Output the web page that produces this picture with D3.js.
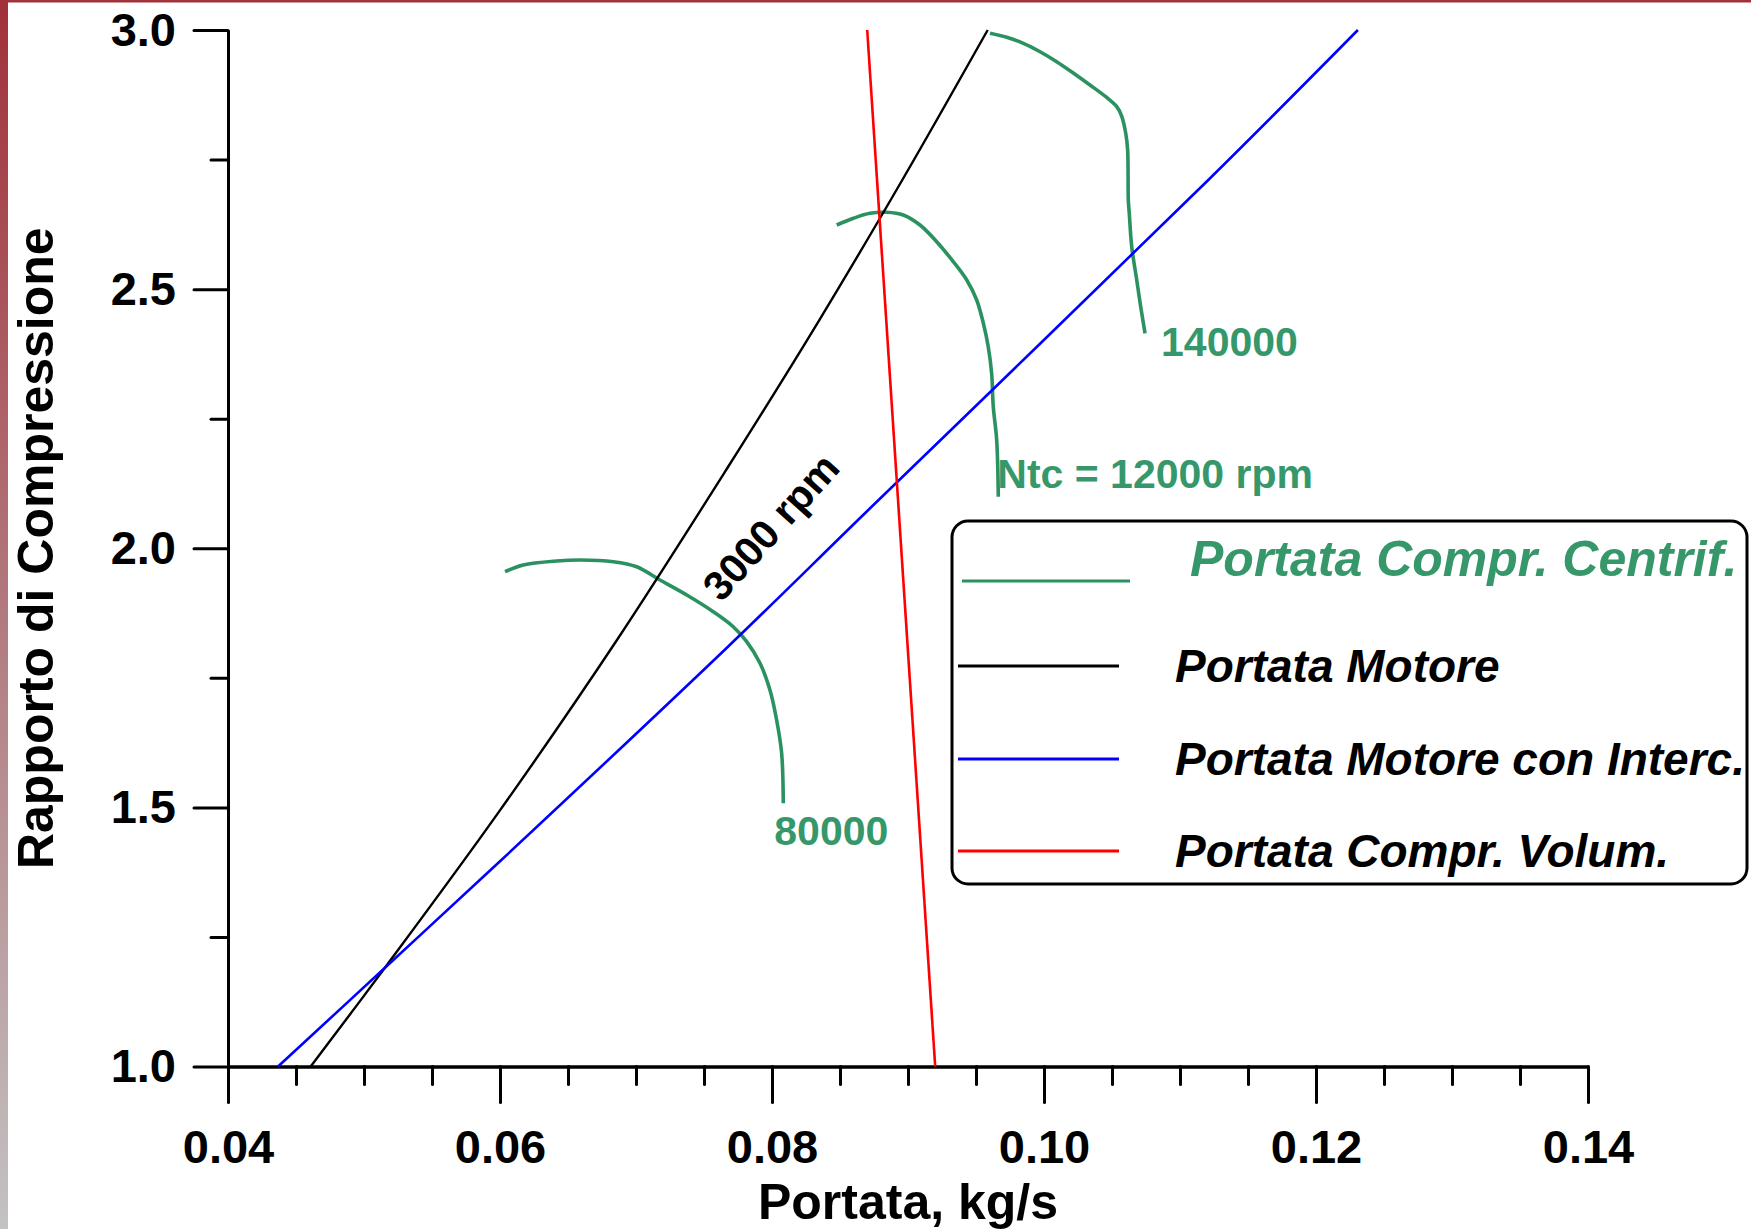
<!DOCTYPE html>
<html>
<head>
<meta charset="utf-8">
<script src="https://cdn.jsdelivr.net/npm/d3@7/dist/d3.min.js"></script>
<style>
  html, body { margin: 0; padding: 0; background: #ffffff; }
  svg { display: block; }
  text { font-family: "Liberation Sans", Arial, sans-serif; font-weight: bold; }
</style>
</head>
<body>
<script>
// Compressor speed lines: mass flow (kg/s) vs pressure ratio
const speed80000 = [
  [0.06037, 1.9548], [0.06171, 1.9677], [0.06417, 1.9754], [0.06588, 1.9773],
  [0.06833, 1.9741], [0.07005, 1.9644], [0.07176, 1.9387], [0.07373, 1.9098],
  [0.07568, 1.8776], [0.07715, 1.8486], [0.07814, 1.8197], [0.07912, 1.7780],
  [0.07985, 1.7265], [0.08034, 1.6686], [0.08071, 1.6043], [0.08083, 1.5079]
];
const speed120000 = [
  [0.08476, 2.6237], [0.08598, 2.6367], [0.08721, 2.6463], [0.08843, 2.6482],
  [0.08965, 2.6430], [0.09088, 2.6237], [0.09211, 2.5915], [0.09333, 2.5529],
  [0.09432, 2.5176], [0.09505, 2.4790], [0.09554, 2.4341], [0.09590, 2.3889],
  [0.09615, 2.3376], [0.09627, 2.2732], [0.09652, 2.2089], [0.09664, 2.0995]
];
const speed140000 = [
  [0.09603, 2.9936], [0.09726, 2.9859], [0.09848, 2.9743], [0.09971, 2.9581],
  [0.10093, 2.9388], [0.10215, 2.9170], [0.10338, 2.8939], [0.10461, 2.8698],
  [0.10535, 2.8520], [0.10571, 2.8340], [0.10601, 2.8007], [0.10615, 2.7685],
  [0.10620, 2.6720], [0.10627, 2.6463], [0.10645, 2.5819], [0.10682, 2.5176],
  [0.10711, 2.4661], [0.10743, 2.4147]
];
const speedLabels = ["80000", "Ntc = 12000 rpm", "140000"];

// Engine demand at 3000 rpm, without and with intercooler, and the volumetric compressor line
const engineFlow = [
  [0.04608, 1.0], [0.05169, 1.1959], [0.05993, 1.4917], [0.06860, 1.8230],
  [0.07681, 2.1587], [0.08348, 2.4404], [0.08958, 2.7106], [0.09586, 3.0]
];
const engineFlowIntercooled = [
  [0.04368, 1.0], [0.05176, 1.1959], [0.06010, 1.3985], [0.07676, 1.8100],
  [0.08708, 2.0738], [0.11208, 2.7106], [0.12308, 3.0]
];
const volumetricFlow = [[0.0870, 3.0], [0.0920, 1.0]];
const engineSpeedLabel = "3000 rpm";
const engineLabelAt = [0.08069, 2.0229];

const legendLabels = [
  "Portata Compr. Centrif.",
  "Portata Motore",
  "Portata Motore con Interc.",
  "Portata Compr. Volum."
];

// Axes
const xDomain = [0.04, 0.14];
const yDomain = [1.0, 3.0];
const xMajorTicks = [0.04, 0.06, 0.08, 0.10, 0.12, 0.14];
const xTickLabels = ["0.04", "0.06", "0.08", "0.10", "0.12", "0.14"];
const xMinorTicks = [0.045, 0.05, 0.055, 0.065, 0.07, 0.075, 0.085, 0.09, 0.095,
                     0.105, 0.11, 0.115, 0.125, 0.13, 0.135];
const yMajorTicks = [1.0, 1.5, 2.0, 2.5, 3.0];
const yTickLabels = ["1.0", "1.5", "2.0", "2.5", "3.0"];
const yMinorTicks = [1.25, 1.75, 2.25, 2.75];
const xTitle = "Portata, kg/s";
const yTitle = "Rapporto di Compressione";

const W = 1751, H = 1229;
const GREEN = "#36986a";
const CURVE_GREEN = "#2a9260";

const svg = d3.select("body").append("svg").attr("width", W).attr("height", H);

// Frame accents
const defs = svg.append("defs");
const grad = defs.append("linearGradient").attr("id", "edge")
  .attr("x1", 0).attr("y1", 0).attr("x2", 0).attr("y2", 1);
grad.append("stop").attr("offset", "0%").attr("stop-color", "#a1313a");
grad.append("stop").attr("offset", "100%").attr("stop-color", "#c3c2c2");
svg.append("rect").attr("x", 0).attr("y", 0).attr("width", W).attr("height", H).attr("fill", "#fff");
svg.append("rect").attr("x", 0).attr("y", 0).attr("width", 8).attr("height", H).attr("fill", "url(#edge)");
svg.append("rect").attr("x", 0).attr("y", 0).attr("width", W).attr("height", 2.5).attr("fill", "#a1313a");

const x = d3.scaleLinear().domain(xDomain).range([228, 1588]);
const y = d3.scaleLinear().domain(yDomain).range([1066.5, 30]);

const tickFont = 47;

function styleAxis(g) {
  g.selectAll("path.domain").attr("stroke", "#000").attr("stroke-width", 3);
  g.selectAll(".tick line").attr("stroke", "#000").attr("stroke-width", 3).attr("stroke-linecap", "round");
  g.selectAll(".tick text").attr("fill", "#000").attr("font-size", tickFont)
    .attr("font-family", "'Liberation Sans', Arial, sans-serif").attr("font-weight", "bold");
}

// X axis
svg.append("g").attr("transform", `translate(0,${y(1.0)})`)
  .call(d3.axisBottom(x).tickValues(xMinorTicks).tickSize(18).tickSizeOuter(0).tickFormat(""))
  .call(styleAxis);
svg.append("g").attr("transform", `translate(0,${y(1.0)})`)
  .call(d3.axisBottom(x).tickValues(xMajorTicks).tickSize(36).tickSizeOuter(0).tickPadding(27)
    .tickFormat((d, i) => xTickLabels[i]))
  .call(styleAxis);

// Y axis
svg.append("g").attr("transform", `translate(${x(0.04)},0)`)
  .call(d3.axisLeft(y).tickValues(yMinorTicks).tickSize(17).tickSizeOuter(0).tickFormat(""))
  .call(styleAxis);
svg.append("g").attr("transform", `translate(${x(0.04)},0)`)
  .call(d3.axisLeft(y).tickValues(yMajorTicks).tickSize(34).tickSizeOuter(0).tickPadding(18)
    .tickFormat((d, i) => yTickLabels[i]))
  .call(styleAxis);

// Axis titles
svg.append("text").attr("x", (x(0.04) + x(0.14)) / 2).attr("y", 1219)
  .attr("text-anchor", "middle").attr("font-size", 50).attr("fill", "#000").text(xTitle);
svg.append("text")
  .attr("transform", `translate(53,${(y(1) + y(3)) / 2}) rotate(-90)`)
  .attr("text-anchor", "middle").attr("font-size", 50).attr("fill", "#000").text(yTitle);

const line = d3.line().x(d => x(d[0])).y(d => y(d[1]));
const smooth = d3.line().x(d => x(d[0])).y(d => y(d[1])).curve(d3.curveCatmullRom.alpha(0.5));

// Compressor speed lines
const speedCurves = [speed80000, speed120000, speed140000];
svg.append("g").selectAll("path").data(speedCurves).join("path")
  .attr("d", smooth).attr("fill", "none").attr("stroke", CURVE_GREEN)
  .attr("stroke-width", 3.6).attr("stroke-linejoin", "round");

// Speed labels placed next to the end of each curve
const labelOffsets = [[-9, 42], [-1, -9], [16, 23]];
svg.append("g").selectAll("text").data(speedCurves).join("text")
  .attr("x", (d, i) => x(d[d.length - 1][0]) + labelOffsets[i][0])
  .attr("y", (d, i) => y(d[d.length - 1][1]) + labelOffsets[i][1])
  .attr("font-size", 41).attr("fill", GREEN)
  .text((d, i) => speedLabels[i]);

// Engine and volumetric lines
svg.append("path").datum(engineFlow).attr("d", smooth).attr("fill", "none")
  .attr("stroke", "#000").attr("stroke-width", 2.4);
svg.append("path").datum(engineFlowIntercooled).attr("d", smooth).attr("fill", "none")
  .attr("stroke", "#0000ff").attr("stroke-width", 2.6);
svg.append("path").datum(volumetricFlow).attr("d", line).attr("fill", "none")
  .attr("stroke", "#ff0000").attr("stroke-width", 2.6);

// Engine speed label along the black line
svg.append("text")
  .attr("transform", `translate(${x(engineLabelAt[0])},${y(engineLabelAt[1])}) rotate(-48)`)
  .attr("text-anchor", "middle").attr("font-size", 41).attr("fill", "#000")
  .text(engineSpeedLabel);

// Legend
const legend = svg.append("g");
legend.append("rect").attr("x", 952).attr("y", 521).attr("width", 795).attr("height", 363)
  .attr("rx", 16).attr("ry", 16).attr("fill", "#fff").attr("stroke", "#000").attr("stroke-width", 3);

const legendColors = [CURVE_GREEN, "#000", "#0000ff", "#ff0000"];
const legendLineY = [581, 666, 759, 851];
const legendTextY = [576, 682, 775, 867];
const legendLineX = [[962, 1130], [958, 1119], [958, 1119], [958, 1119]];
const legendTextX = [1190, 1175, 1175, 1175];
const legendFont = [50, 46, 46, 46];

legend.selectAll("line").data(legendLabels).join("line")
  .attr("x1", (d, i) => legendLineX[i][0]).attr("x2", (d, i) => legendLineX[i][1])
  .attr("y1", (d, i) => legendLineY[i]).attr("y2", (d, i) => legendLineY[i])
  .attr("stroke", (d, i) => legendColors[i]).attr("stroke-width", 3);
legend.selectAll("text").data(legendLabels).join("text")
  .attr("x", (d, i) => legendTextX[i]).attr("y", (d, i) => legendTextY[i])
  .attr("font-size", (d, i) => legendFont[i]).attr("font-style", "italic")
  .attr("fill", (d, i) => i === 0 ? GREEN : "#000")
  .text(d => d);
</script>
</body>
</html>
